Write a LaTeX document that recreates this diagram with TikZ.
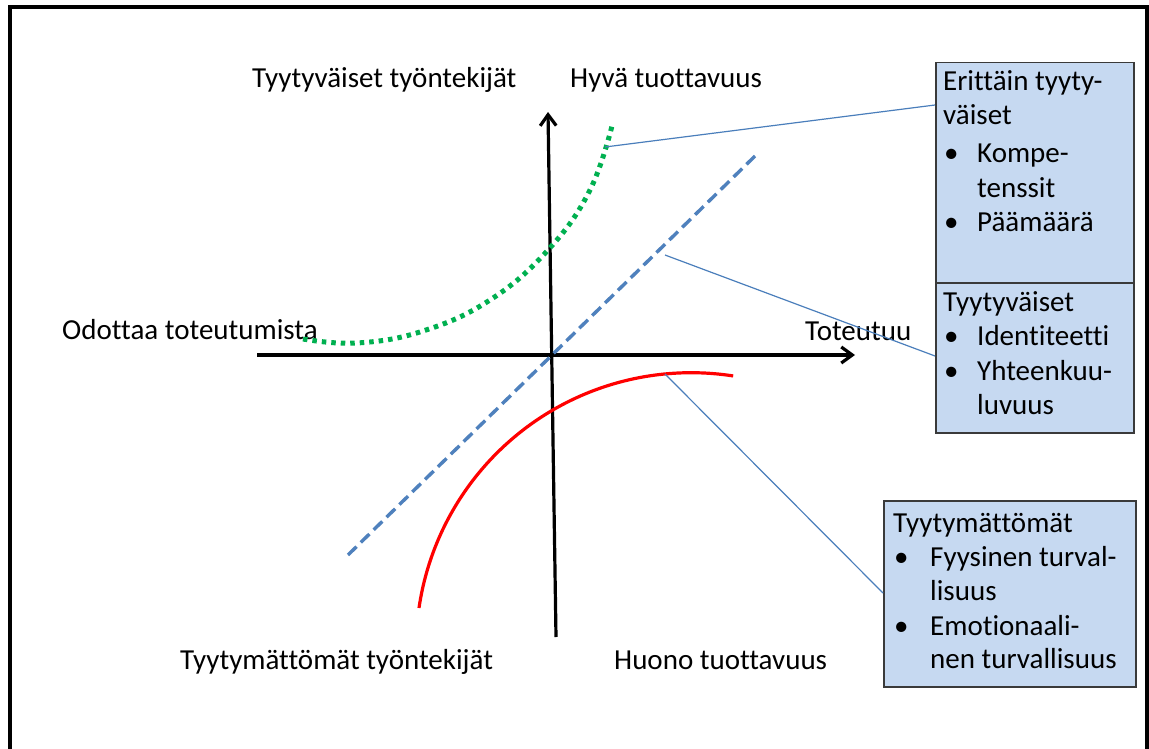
\documentclass[tikz,border=0pt]{standalone}
\usepackage{fontspec}
\setmainfont[Ligatures=NoCommon]{Carlito}
\usetikzlibrary{arrows.meta}

\definecolor{boxfill}{HTML}{C6D9F1}
\definecolor{boxline}{HTML}{3A3A3A}
\definecolor{trendblue}{HTML}{4F81BD}
\definecolor{leaderblue}{HTML}{4A7EBB}
\definecolor{dotgreen}{HTML}{00B050}

\tikzset{
  frameline/.style={line width=3.2pt, black, line join=miter},
  axisline/.style={line width=3.2pt, black, -{Straight Barb[length=11pt,width=16pt,line width=3.2pt]}},
  trendline/.style={line width=3.4pt, trendblue, dash pattern=on 12pt off 6pt},
  goodcurve/.style={line width=5pt, dotgreen, dash pattern=on 4.5pt off 5pt},
  badcurve/.style={line width=3.2pt, red},
  leader/.style={line width=1.2pt, leaderblue},
  infobox/.style={draw=boxline, fill=boxfill, line width=1.5pt, rectangle, inner sep=0pt, anchor=north west},
  lbl/.style={font=\fontsize{29}{35}\selectfont, inner sep=0pt, anchor=base west},
}

\begin{document}
\begin{tikzpicture}[x=1pt, y=-1pt]
\useasboundingbox (0,0) rectangle (1149,749);

% open frame round the figure
\draw[frameline] (10,749) -- (10,7) -- (1147,7) -- (1147,749);

% quadrant labels
\node[lbl] (tl) at (252,88) {Tyytyväiset työntekijät};
\node[lbl] (tr) at (570,88) {Hyvä tuottavuus};
\node[lbl] (ml) at (62,339) {Odottaa toteutumista};
\node[lbl] (mr) at (805,340) {Toteutuu};
\node[lbl] (bl) at (180,669) {Tyytymättömät työntekijät};
\node[lbl] (br) at (614,669) {Huono tuottavuus};

% axes
\coordinate (xs) at (257,355);
\coordinate (xe) at (855,355);
\coordinate (ys) at (556,637);
\coordinate (ye) at (548,112);
\draw[axisline] (xs) -- (xe);
\draw[axisline] (ys) -- (ye);

% linear trend
\coordinate (ts) at (348,555);
\coordinate (te) at (755,156);
\draw[trendline] (ts) -- (te);

% satisfied curve (dotted green)
\draw[goodcurve] plot[smooth, tension=0.7] coordinates
  {(303,339) (357,343) (423,331) (490,300) (548,250) (590,190) (613,122)};

% dissatisfied curve: circular arc, centre (690.9,647.6), radius 275
\coordinate (rs) at (419,608);
\draw[badcurve] (rs) arc[start angle=188.3, end angle=278.8, radius=275];

% information boxes
\node[infobox, minimum width=198pt, minimum height=220pt] (boxA) at (935,62) {};
\node[infobox, minimum width=198pt, minimum height=150pt] (boxB) at (935,282) {};
\node[infobox, minimum width=252pt, minimum height=186pt] (boxC) at (883,500) {};

\node[lbl] (a1) at (943,91) {Erittäin tyyty-};
\node[lbl] (a2) at (943,125) {väiset};
\node[lbl] (a3b) at (944,163) {•};
\node[lbl] (a3) at (977,163) {Kompe-};
\node[lbl] (a4) at (977,197) {tenssit};
\node[lbl] (a5b) at (944,231) {•};
\node[lbl] (a5) at (977,231) {Päämäärä};

\node[lbl] (b1) at (943,311) {Tyytyväiset};
\node[lbl] (b2b) at (944,345) {•};
\node[lbl] (b2) at (977,345) {Identiteetti};
\node[lbl] (b3b) at (944,380) {•};
\node[lbl] (b3) at (977,380) {Yhteenkuu-};
\node[lbl] (b4) at (977,414) {luvuus};

\node[lbl] (c1) at (893,532) {Tyytymättömät};
\node[lbl] (c2b) at (894,566) {•};
\node[lbl] (c2) at (930,566) {Fyysinen turval-};
\node[lbl] (c3) at (930,600) {lisuus};
\node[lbl] (c4b) at (894,635) {•};
\node[lbl] (c4) at (930,635) {Emotionaali-};
\node[lbl] (c5) at (930,668) {nen turvallisuus};

% leader lines from the curves to the boxes
\coordinate (pg) at (605,147);
\coordinate (pt) at (665,255);
\coordinate (pr) at (665,374);
\coordinate (qa) at (935,105);
\coordinate (qb) at (935,356);
\coordinate (qc) at (883,593);
\draw[leader] (pg) -- (qa);
\draw[leader] (pt) -- (qb);
\draw[leader] (pr) -- (qc);
\end{tikzpicture}
\end{document}
